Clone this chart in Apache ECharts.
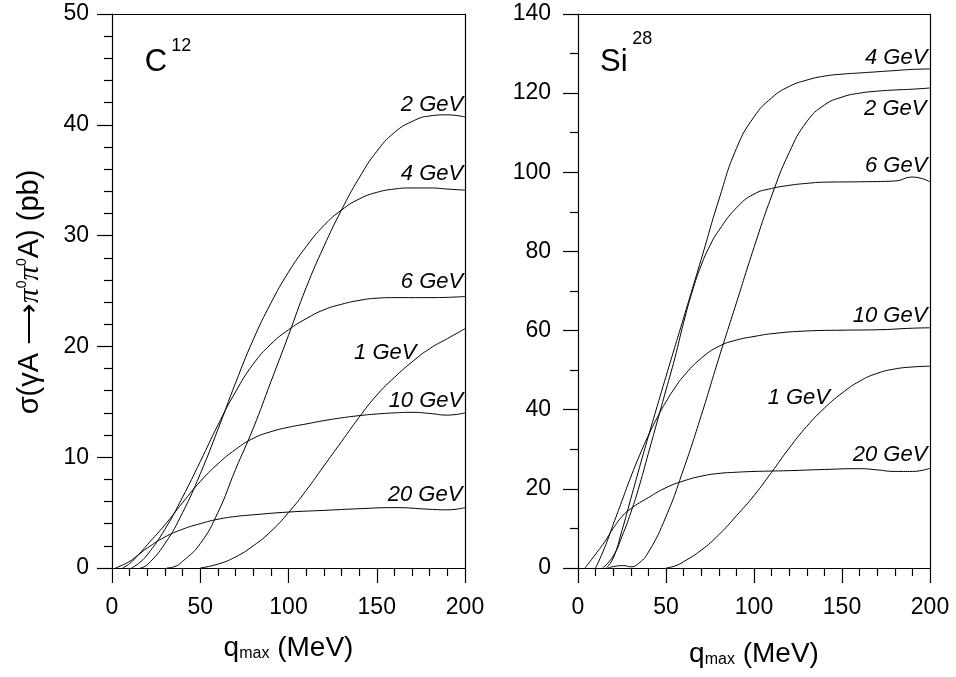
<!DOCTYPE html>
<html>
<head>
<meta charset="utf-8">
<script src="https://cdn.jsdelivr.net/npm/echarts@6/dist/echarts.min.js"></script>
<style>
  html, body { margin: 0; padding: 0; background: #fff; }
  #container { width: 956px; height: 677px; }
</style>
</head>
<body>
<div id="container"></div>
<script>
// C12 curves, [q_max (MeV), sigma (pb)]
var c12_1GeV = [[50,0],[60,0.35],[70,1.0],[80,2.0],[90,3.3],[100,5.0],[110,7.0],[120,9.2],[130,11.4],[140,13.6],[150,15.6],[160,17.2],[170,18.6],[180,19.8],[190,20.7],[200,21.6]];
var c12_2GeV = [[31,0],[35,0.1],[40,0.6],[50,2.2],[60,5.0],[70,8.9],[80,12.6],[90,16.8],[100,21.0],[110,25.3],[120,29.0],[130,32.3],[140,35.2],[150,37.6],[160,39.3],[170,40.3],[180,40.8],[190,40.9],[200,40.7]];
var c12_4GeV = [[16,0],[20,0.3],[30,2.2],[40,5.0],[50,8.5],[60,12.5],[70,16.7],[80,20.6],[90,23.9],[100,26.7],[110,29.0],[120,30.9],[130,32.3],[140,33.3],[150,33.9],[160,34.2],[170,34.3],[180,34.3],[190,34.2],[200,34.1]];
var c12_6GeV = [[11,0],[15,0.4],[20,1.2],[30,3.5],[40,6.4],[50,9.6],[60,12.9],[70,15.9],[80,18.4],[90,20.2],[100,21.5],[110,22.5],[120,23.3],[130,23.8],[140,24.15],[150,24.35],[160,24.4],[180,24.4],[200,24.5]];
var c12_10GeV = [[6,0],[10,0.4],[15,1.2],[20,2.1],[30,3.9],[40,5.9],[50,7.8],[60,9.4],[70,10.7],[80,11.7],[90,12.3],[100,12.7],[110,13.0],[120,13.3],[130,13.55],[140,13.75],[150,13.9],[160,14.0],[170,14.05],[180,13.95],[190,13.8],[200,14.0]];
var c12_20GeV = [[2,0],[5,0.2],[10,0.6],[15,1.2],[20,1.8],[30,2.8],[40,3.5],[50,4.0],[60,4.4],[70,4.65],[80,4.8],[100,5.05],[120,5.2],[140,5.35],[160,5.45],[180,5.3],[190,5.25],[200,5.45]];

// Si28 curves
var si28_1GeV = [[50,0],[55,0.5],[60,1.6],[70,4.5],[80,8.4],[90,13.2],[100,18.3],[110,24.2],[120,30.3],[130,35.8],[140,40.4],[150,44.2],[160,47.2],[170,49.2],[180,50.3],[190,50.8],[200,51.0]];
var si28_2GeV = [[17,0],[22,0.5],[26,0.6],[30,0.3],[34,1.0],[40,4],[50,13],[60,25],[70,38.5],[80,53],[90,67],[100,81],[110,94],[120,105],[130,112.8],[140,117],[150,119],[160,120],[170,120.5],[180,120.8],[190,121],[200,121.3]];
var si28_4GeV = [[16,0],[20,2.5],[25,9.5],[30,17.5],[35,25.5],[40,33.3],[50,48.4],[60,63.2],[70,78],[80,93],[90,106],[100,114],[110,118.8],[120,121.7],[130,123.3],[140,124.3],[150,124.8],[160,125.1],[170,125.4],[180,125.7],[190,126],[200,126.1]];
var si28_6GeV = [[14,0],[20,3],[25,8],[30,14],[35,21],[40,29],[45,37],[50,45],[55,53],[60,62],[65,70],[70,76.5],[75,81.5],[80,85.3],[90,91],[100,94.5],[110,95.9],[120,96.7],[130,97.2],[140,97.5],[160,97.6],[180,97.8],[190,98.8],[200,97.6]];
var si28_10GeV = [[10,0],[15,5],[20,11],[25,17],[30,23],[35,28.5],[40,33.5],[45,38],[50,42],[55,45.5],[60,48.5],[70,53],[80,56],[90,57.6],[100,58.5],[110,59.2],[130,59.9],[150,60.1],[170,60.2],[190,60.6],[200,60.7]];
var si28_20GeV = [[4,0],[10,3.5],[15,6.5],[20,10],[25,13],[30,15],[40,17.8],[50,20.3],[60,22],[70,23.2],[80,23.9],[90,24.2],[100,24.4],[120,24.6],[140,24.9],[160,25.1],[170,24.8],[180,24.4],[190,24.4],[200,25.2]];

var c12Series = [c12_1GeV, c12_2GeV, c12_4GeV, c12_6GeV, c12_10GeV, c12_20GeV];
var si28Series = [si28_1GeV, si28_2GeV, si28_4GeV, si28_6GeV, si28_10GeV, si28_20GeV];

// curve labels: text, anchor in data coords (right edge, middle)
var c12Labels = [['2 GeV', 199, 41.8], ['4 GeV', 199, 35.6], ['6 GeV', 199, 25.8], ['1 GeV', 172.5, 19.4], ['10 GeV', 199, 15.1], ['20 GeV', 198.5, 6.6]];
var si28Labels = [['4 GeV', 198.5, 128.9], ['2 GeV', 198, 116.1], ['6 GeV', 198.5, 101.7], ['10 GeV', 198.5, 63.8], ['1 GeV', 143.2, 42.9], ['20 GeV', 198.5, 28.5]];

var FONT = '"Liberation Sans", Arial, sans-serif';

var dom = document.getElementById('container');
var myChart = echarts.init(dom);

function bottomAxis(grid, nameGap) {
    return {
        type: 'value', gridIndex: grid, position: 'bottom',
        min: 0, max: 200, interval: 50,
        axisLine: {show: true, onZero: false, lineStyle: {color: '#000', width: 1.2}},
        axisTick: {show: true, inside: false, length: 15, lineStyle: {color: '#000', width: 1.2}},
        minorTick: {show: true, splitNumber: 5, length: 8, lineStyle: {color: '#000', width: 1.2}},
        splitLine: {show: false},
        axisLabel: {color: '#000', fontSize: 23, fontFamily: FONT, margin: 28},
        name: '{q|q}{sub|max} (MeV)',
        nameLocation: 'middle',
        nameGap: nameGap,
        nameTextStyle: {
            color: '#000', fontSize: 28, fontFamily: FONT,
            rich: {
                q: {fontSize: 28, fontFamily: FONT, color: '#000'},
                sub: {fontSize: 16, fontFamily: FONT, color: '#000', verticalAlign: 'bottom', padding: [10, 0, 0, 0]}
            }
        }
    };
}

function leftAxis(grid, max, interval, minorSplit, margin) {
    return {
        type: 'value', gridIndex: grid, position: 'left',
        min: 0, max: max, interval: interval,
        axisLine: {show: true, onZero: false, lineStyle: {color: '#000', width: 1.2}},
        axisTick: {show: true, inside: false, length: 15, lineStyle: {color: '#000', width: 1.2}},
        minorTick: {show: true, splitNumber: minorSplit, length: 8, lineStyle: {color: '#000', width: 1.2}},
        splitLine: {show: false},
        axisLabel: {color: '#000', fontSize: 23, fontFamily: FONT, margin: margin}
    };
}

function frameX(grid) {
    return {
        type: 'value', gridIndex: grid, position: 'top', min: 0, max: 200,
        axisLine: {show: true, onZero: false, lineStyle: {color: '#000', width: 1.2}},
        axisTick: {show: false}, axisLabel: {show: false}, splitLine: {show: false}
    };
}

function frameY(grid, max) {
    return {
        type: 'value', gridIndex: grid, position: 'right', min: 0, max: max,
        axisLine: {show: true, onZero: false, lineStyle: {color: '#000', width: 1.2}},
        axisTick: {show: false}, axisLabel: {show: false}, splitLine: {show: false}
    };
}

var series = [];
c12Series.forEach(function (d) {
    series.push({
        type: 'line', xAxisIndex: 0, yAxisIndex: 0, data: d,
        smooth: 0.5, symbol: 'none', silent: true,
        lineStyle: {color: '#000', width: 1}
    });
});
si28Series.forEach(function (d) {
    series.push({
        type: 'line', xAxisIndex: 1, yAxisIndex: 1, data: d,
        smooth: 0.5, symbol: 'none', silent: true,
        lineStyle: {color: '#000', width: 1}
    });
});

var option = {
    animation: false,
    backgroundColor: '#fff',
    grid: [
        {left: 112, top: 14, width: 353, height: 554},
        {left: 578, top: 14, width: 352, height: 554}
    ],
    xAxis: [bottomAxis(0, 66), bottomAxis(1, 72), frameX(0), frameX(1)],
    yAxis: [leftAxis(0, 50, 10, 5, 23), leftAxis(1, 140, 20, 2, 27), frameY(0, 50), frameY(1, 140)],
    series: series
};
myChart.setOption(option, true);

// annotations placed through the axes
var graphic = [];
function addLabels(labels, axisIdx) {
    labels.forEach(function (l) {
        var p = myChart.convertToPixel({xAxisIndex: axisIdx, yAxisIndex: axisIdx}, [l[1], l[2]]);
        graphic.push({
            type: 'text', x: p[0], y: p[1], silent: true,
            style: {text: l[0], fill: '#000', fontSize: 22, fontStyle: 'italic', fontFamily: FONT,
                    align: 'right', verticalAlign: 'middle'}
        });
    });
}
addLabels(c12Labels, 0);
addLabels(si28Labels, 1);

function addNucleus(main, sup, axisIdx, pos, supPos) {
    var p = myChart.convertToPixel({xAxisIndex: axisIdx, yAxisIndex: axisIdx}, pos);
    var q = myChart.convertToPixel({xAxisIndex: axisIdx, yAxisIndex: axisIdx}, supPos);
    graphic.push({type: 'text', x: p[0], y: p[1], silent: true,
        style: {text: main, fill: '#000', fontSize: 31, fontFamily: FONT, align: 'left', verticalAlign: 'middle'}});
    graphic.push({type: 'text', x: q[0], y: q[1], silent: true,
        style: {text: sup, fill: '#000', fontSize: 18, fontFamily: FONT, align: 'left', verticalAlign: 'middle'}});
}
addNucleus('C', '12', 0, [18.5, 45.6], [33.5, 47.1]);
addNucleus('Si', '28', 1, [12.5, 127.8], [30.8, 133.6]);

graphic.push({
    type: 'text', x: 30, y: 292, rotation: Math.PI / 2, silent: true,
    style: {
        text: 'σ(γA ⟶{p|π}{s|0}{p|π}{s|0}A) (pb)',
        fill: '#000', fontSize: 29, fontFamily: FONT, align: 'center', verticalAlign: 'middle',
        rich: {
            p: {fontSize: 29, fontFamily: '"Liberation Serif", "DejaVu Serif", serif', fontStyle: 'italic', fill: '#000'},
            s: {fontSize: 14, fontFamily: FONT, fill: '#000', verticalAlign: 'top'}
        }
    }
});

myChart.setOption({graphic: graphic});
</script>
</body>
</html>
